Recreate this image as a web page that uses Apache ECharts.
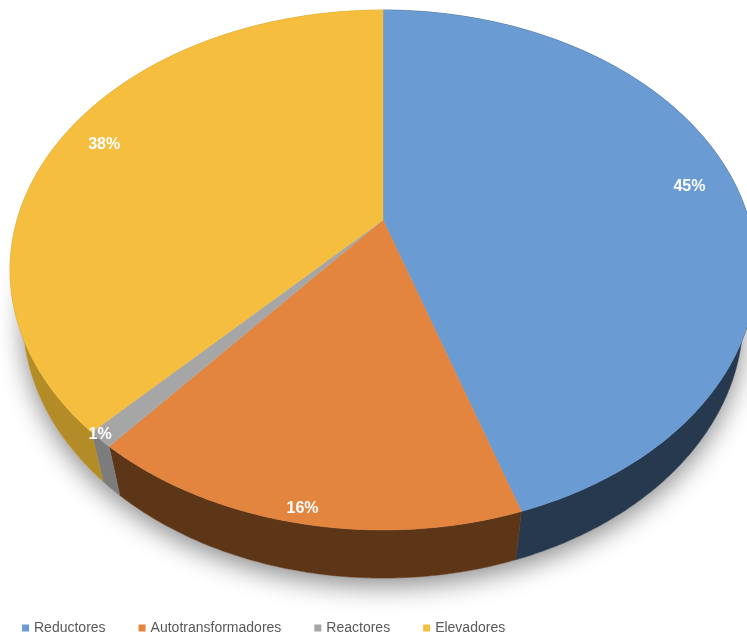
<!DOCTYPE html>
<html><head><meta charset="utf-8">
<script src="https://cdn.jsdelivr.net/npm/echarts@6/dist/echarts.min.js"></script>
<style>html,body{margin:0;padding:0;background:#fff}#c{width:747px;height:635px}</style>
</head><body><div id="c"></div>
<script>
const categories = ['Reductores', 'Autotransformadores', 'Reactores', 'Elevadores'];
const values = [45, 16, 1, 38];
const labelText = values.map(v => v + '%');

// styling / layout (not data)
const topColors = ['#6a9bd2', '#e3843f', '#a6a6a6', '#f5be3e'];
const wallColors = ['#27394f', '#5d3618', '#7c7c7c', '#b48c27'];
const labelR = [0.87, 0.96, 1.0, 0.87];

const cx = 383, cy = 220, F = 1387, D = 3.79, S = 0.684, C = Math.sqrt(1 - S * S), H = 0.192;
function proj(u, v, y) {
  const depth = D - y * S - v * C;
  return [cx + F * u / depth, cy + F * (v * S - y * C) / depth];
}
function rim(theta, y, r) { return proj(r * Math.sin(theta), -r * Math.cos(theta), y); }
const total = values.reduce((a, b) => a + b, 0);
const starts = []; let acc = 0; values.forEach(v => { starts.push(acc); acc += v; });
function arc(t0, t1, y) {
  const pts = []; const n = Math.max(2, Math.ceil((t1 - t0) / 0.01));
  for (let k = 0; k <= n; k++) pts.push(rim(t0 + (t1 - t0) * k / n, y, 1));
  return pts;
}
function makeRender(i) {
  return function (params, api) {
    const val = api.value(0);
    const t0 = starts[i] / total * 2 * Math.PI, t1 = (starts[i] + val) / total * 2 * Math.PI;
    const topArc = arc(t0, t1, 0);
    const botArc = arc(t0, t1, -H).reverse();
    const children = [];
    if (i === 0) {
      children.push({ type: 'polygon', z2: 0, shape: { points: arc(0, 2 * Math.PI, -H) },
        style: { fill: '#fff', shadowBlur: 26, shadowColor: 'rgba(0,0,0,0.45)', shadowOffsetY: 8 } });
    }
    children.push({ type: 'polygon', z2: 5, shape: { points: topArc.concat(botArc) },
      style: { fill: wallColors[i], stroke: wallColors[i], lineWidth: 0.5 } });
    children.push({ type: 'polygon', z2: 10, shape: { points: [[cx, cy]].concat(topArc) },
      style: { fill: topColors[i], stroke: topColors[i], lineWidth: 0.5 } });
    const tm = (t0 + t1) / 2; const lp = rim(tm, 0, labelR[i]);
    children.push({ type: 'text', z2: 20, x: lp[0], y: lp[1] - (i === 2 ? 5 : 0),
      style: { text: labelText[i], fill: '#fff', font: 'bold 16px "Liberation Sans", Arial, sans-serif',
        align: 'center', verticalAlign: 'middle' } });
    return { type: 'group', children };
  };
}
const chart = echarts.init(document.getElementById('c'));
chart.setOption({
  animation: false,
  backgroundColor: '#fff',
  legend: {
    data: categories, left: 17, top: 616, icon: 'rect', itemWidth: 7, itemHeight: 7, itemGap: 33,
    selectedMode: false,
    textStyle: { color: '#595959', fontSize: 14, fontFamily: '"Liberation Sans", Arial, sans-serif' }
  },
  series: categories.map((name, i) => ({
    type: 'custom', name, coordinateSystem: 'none', silent: true,
    renderItem: makeRender(i), data: [[values[i]]],
    itemStyle: { color: topColors[i] }
  }))
});
</script></body></html>
